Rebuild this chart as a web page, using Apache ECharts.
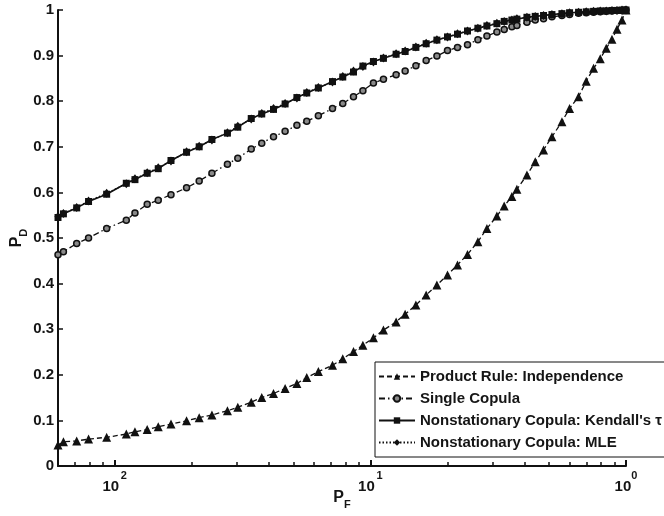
<!DOCTYPE html>
<html><head><meta charset="utf-8">
<script src="https://cdn.jsdelivr.net/npm/echarts@6/dist/echarts.min.js"></script>
<style>html,body{margin:0;padding:0;background:#fff}#c{width:664px;height:516px}</style>
</head><body><div id="c"></div>
<script>
// False-alarm probabilities (x, log scale)
const pF = [0.006,0.0063,0.0071,0.0079,0.0093,0.0111,0.0120,0.0134,0.0148,0.0166,0.0191,0.0214,0.0240,0.0276,0.0303,0.0342,0.0376,0.0418,0.0464,0.0516,0.0564,0.0626,0.0711,0.0780,0.0859,0.0935,0.1028,0.1125,0.1261,0.1368,0.1507,0.1653,0.1821,0.2003,0.2192,0.2399,0.2634,0.2857,0.3126,0.3339,0.3578,0.3743,0.4097,0.4415,0.4758,0.5132,0.5615,0.6015,0.6523,0.6990,0.7466,0.7931,0.8371,0.8813,0.9220,0.9645,1.0];
const independence = [0.046,0.053,0.055,0.059,0.063,0.070,0.075,0.080,0.086,0.092,0.099,0.106,0.112,0.121,0.129,0.140,0.150,0.159,0.170,0.181,0.194,0.207,0.221,0.235,0.251,0.265,0.281,0.298,0.316,0.333,0.353,0.375,0.397,0.419,0.441,0.464,0.492,0.521,0.548,0.570,0.591,0.607,0.638,0.667,0.693,0.722,0.755,0.784,0.810,0.844,0.872,0.893,0.916,0.936,0.958,0.978,1.0];
const singleCopula = [0.463,0.470,0.488,0.500,0.521,0.539,0.555,0.574,0.583,0.595,0.610,0.625,0.642,0.662,0.675,0.695,0.708,0.722,0.734,0.747,0.756,0.768,0.784,0.795,0.810,0.823,0.840,0.848,0.858,0.866,0.878,0.889,0.899,0.911,0.918,0.924,0.935,0.943,0.952,0.957,0.963,0.966,0.973,0.978,0.981,0.985,0.988,0.990,0.993,0.994,0.995,0.996,0.997,0.998,0.999,0.999,1.0];
const kendall = [0.545,0.553,0.566,0.580,0.596,0.620,0.628,0.642,0.652,0.670,0.688,0.700,0.716,0.730,0.743,0.762,0.772,0.782,0.794,0.808,0.818,0.829,0.843,0.853,0.864,0.877,0.887,0.894,0.903,0.909,0.918,0.926,0.934,0.941,0.947,0.954,0.960,0.965,0.970,0.975,0.978,0.980,0.984,0.986,0.988,0.990,0.992,0.994,0.995,0.996,0.997,0.998,0.998,0.999,0.999,1.0,1.0];
const mle = [0.547,0.554,0.567,0.581,0.598,0.619,0.630,0.643,0.654,0.669,0.689,0.701,0.715,0.731,0.745,0.761,0.773,0.784,0.795,0.807,0.819,0.830,0.842,0.854,0.866,0.876,0.886,0.895,0.904,0.910,0.919,0.927,0.935,0.941,0.948,0.954,0.960,0.966,0.971,0.975,0.978,0.981,0.984,0.986,0.988,0.990,0.992,0.994,0.995,0.996,0.997,0.998,0.998,0.999,0.999,1.0,1.0];

const seriesNames = ['Product Rule: Independence','Single Copula',"Nonstationary Copula: Kendall's \u03c4",'Nonstationary Copula: MLE'];
const xMajorTicks = [0.01, 0.1, 1];
const xTickLabels = {0.01: ['10','2'], 0.1: ['10','1'], 1: ['10','0']};
const xMinorTicks = [0.007,0.008,0.009,0.02,0.03,0.04,0.05,0.06,0.07,0.08,0.09,0.2,0.3,0.4,0.5,0.6,0.7,0.8,0.9];

const FONT = "'Liberation Sans', Arial, sans-serif";
const TXT = '#151515';

function pairs(ys){ return pF.map((x,i)=>[x, ys[i]]); }

const chart = echarts.init(document.getElementById('c'), null, {renderer:'canvas'});

chart.setOption({
  animation:false,
  backgroundColor:'#fff',
  grid: {left:58, right:38, top:10, bottom:50, containLabel:false, outerBoundsMode:'none'},
  legend: {
    orient:'vertical', left:375, top:362,
    backgroundColor:'#fff', borderColor:'#111', borderWidth:1,
    padding:[7,5,7,3], itemWidth:36, itemHeight:8, itemGap:7,
    selectedMode:false,
    textStyle:{fontFamily:FONT, fontWeight:'bold', fontSize:15, color:TXT},
    data: seriesNames
  },
  xAxis: [{
    type:'log', logBase:10, min:0.006, max:1, position:'bottom',
    name:'{p|P}{s|F}', nameLocation:'middle', nameGap:24, nameMoveOverlap:false,
    nameTextStyle:{rich:{
      p:{fontFamily:FONT, fontWeight:'bold', fontSize:16, color:TXT, verticalAlign:'top', lineHeight:20},
      s:{fontFamily:FONT, fontWeight:'bold', fontSize:11, color:TXT, verticalAlign:'bottom', lineHeight:20}
    }},
    axisLine:{lineStyle:{color:'#111', width:2}},
    axisTick:{inside:true, length:6, customValues:xMajorTicks, lineStyle:{color:'#111', width:2}},
    splitLine:{show:false},
    axisLabel:{
      customValues:xMajorTicks, margin:4,
      formatter:function(v){
        const k = xMajorTicks.find(t=>Math.abs(t-v)/t<1e-6);
        if(k===undefined) return '';
        const l = xTickLabels[k];
        return l[1]==='0' ? '{b|'+l[0]+'}{s|'+l[1]+'}' : '{b|'+l[0]+'}{g| }{s|'+l[1]+'}';
      },
      rich:{
        b:{fontFamily:FONT, fontWeight:'bold', fontSize:15, color:TXT, verticalAlign:'bottom', lineHeight:24},
        g:{fontFamily:FONT, fontSize:6, lineHeight:24},
        s:{fontFamily:FONT, fontWeight:'bold', fontSize:11, color:TXT, verticalAlign:'top', lineHeight:24}
      }
    }
  },{
    type:'log', logBase:10, min:0.006, max:1, position:'bottom',
    axisLine:{show:false}, axisLabel:{show:false}, splitLine:{show:false},
    axisTick:{inside:true, length:4, customValues:xMinorTicks, lineStyle:{color:'#111', width:1.5}}
  }],
  yAxis: {
    type:'value', min:0, max:1, interval:0.1,
    name:'{p|P}{s|D}', nameLocation:'middle', nameGap:29, nameRotate:90, nameMoveOverlap:false,
    nameTextStyle:{rich:{
      p:{fontFamily:FONT, fontWeight:'bold', fontSize:16, color:TXT, verticalAlign:'top', lineHeight:20},
      s:{fontFamily:FONT, fontWeight:'bold', fontSize:11, color:TXT, verticalAlign:'bottom', lineHeight:20}
    }},
    axisLine:{show:true, lineStyle:{color:'#111', width:2}},
    axisTick:{show:true, inside:true, length:5, lineStyle:{color:'#111', width:1.5}},
    splitLine:{show:false},
    axisLabel:{margin:4, fontFamily:FONT, fontWeight:'bold', fontSize:15, color:TXT}
  },
  series: [
    {name:seriesNames[0], type:'line', data:pairs(independence), showAllSymbol:true,
     symbol:'triangle', symbolSize:9, itemStyle:{color:'#111'},
     lineStyle:{color:'#111', width:1.3, type:[5,3]}, z:2},
    {name:seriesNames[1], type:'line', data:pairs(singleCopula), showAllSymbol:true,
     symbol:'circle', symbolSize:6, itemStyle:{color:'#8a8a8a', borderColor:'#111', borderWidth:1.5},
     lineStyle:{color:'#111', width:1.3, type:[6,3,1.5,3]}, z:3},
    {name:seriesNames[2], type:'line', data:pairs(kendall), showAllSymbol:true,
     symbol:'rect', symbolSize:7, itemStyle:{color:'#111'},
     lineStyle:{color:'#111', width:1.6, type:'solid'}, z:4},
    {name:seriesNames[3], type:'line', data:pairs(mle), showAllSymbol:true,
     symbol:'diamond', symbolSize:[7,9], itemStyle:{color:'#111'},
     lineStyle:{color:'#111', width:1.3, type:[1.5,2]}, z:5}
  ]
});
</script></body></html>
